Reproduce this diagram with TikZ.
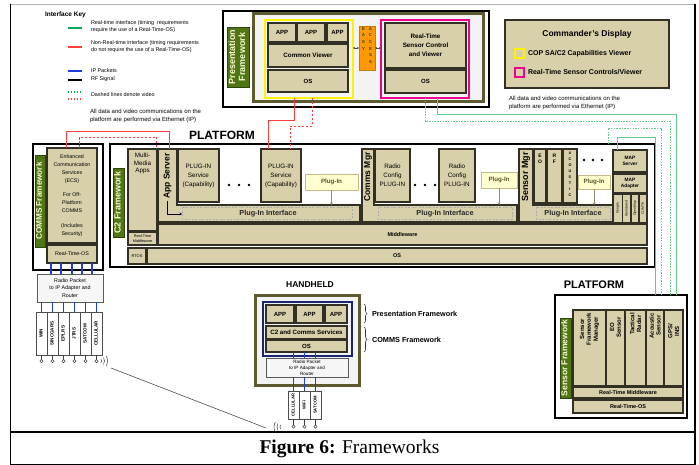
\documentclass[tikz,border=0pt]{standalone}
\usepackage{fontspec}
\setmainfont{Liberation Serif}
\setsansfont{Liberation Sans}
\usetikzlibrary{arrows.meta,decorations.pathreplacing}

\definecolor{tanbox}{RGB}{216,208,171}
\definecolor{boxedge}{RGB}{50,48,36}
\definecolor{olive}{RGB}{92,90,46}
\definecolor{labgreen}{RGB}{78,118,20}
\definecolor{labtext}{RGB}{252,248,205}
\definecolor{plugfill}{RGB}{255,255,208}
\definecolor{plugedge}{RGB}{196,186,136}
\definecolor{plugtext}{RGB}{90,84,40}
\definecolor{accessorange}{RGB}{255,153,0}
\definecolor{navyedge}{RGB}{28,38,112}
\definecolor{pktblue}{RGB}{30,60,220}
\definecolor{rtgreen}{RGB}{96,204,140}
\definecolor{keygreen}{RGB}{0,176,80}
\definecolor{nrtred}{RGB}{255,60,60}
\definecolor{panelgray}{RGB}{243,243,243}
\definecolor{pktfill}{RGB}{246,246,246}

\newcommand{\fsz}[2]{\fontsize{#1}{#2}\selectfont}
% box from corner (x1,y1) to corner (x2,y2), pixel units, y downwards
\newcommand{\mkbox}[7][]{%
  \pgfmathsetmacro\bxw{#5-(#3)}%
  \pgfmathsetmacro\bxh{#6-(#4)}%
  \node[#1,minimum width=\bxw pt,minimum height=\bxh pt,anchor=north west] (#2) at (#3,#4) {#7};}
% text turned to read from bottom to top
\newcommand{\uptext}[1]{\rotatebox{90}{\begin{tabular}{@{}c@{}}#1\end{tabular}}}

\begin{document}
\begin{tikzpicture}[x=1pt,y=-1pt,
  every node/.style={inner sep=0pt,outer sep=0pt},
  tbox/.style={draw=boxedge,fill=tanbox,line width=1.1pt,align=center,font=\sffamily\fsz{5}{6}},
  tboxb/.style={tbox,font=\sffamily\bfseries\fsz{6}{7}},
  grlab/.style={fill=labgreen,draw=labgreen!60!black,line width=0.4pt,text=labtext,font=\sffamily\bfseries\fsz{9}{10}},
  plugbox/.style={draw=plugedge,fill=plugfill,line width=0.8pt,text=plugtext,font=\sffamily\bfseries\fsz{6.2}{7}},
  pkt/.style={draw=gray!70!black,fill=pktfill,line width=0.6pt,align=center,font=\sffamily\fsz{5.3}{7.3}},
  radio/.style={draw=gray!60!black,fill=white,line width=0.6pt,font=\sffamily\bfseries\fsz{4.6}{5}},
  olivepanel/.style={draw=olive,fill=panelgray,line width=3pt},
  frame/.style={draw=black,fill=white,line width=1.8pt},
  lshape/.style={draw=boxedge,fill=tanbox,line width=1.1pt},
  ifdash/.style={draw=gray!65,line width=0.6pt,dash pattern=on 2pt off 1.5pt},
  iflabel/.style={font=\sffamily\bfseries\fsz{7.3}{8},text=black!85},
  mgrlab/.style={rotate=90,font=\sffamily\bfseries\fsz{8.5}{9}},
  keytxt/.style={font=\sffamily\fsz{5.4}{7},align=left,anchor=west},
  note/.style={font=\sffamily\fsz{6}{8},align=left,anchor=north west},
  blueln/.style={draw=pktblue,line width=1.3pt},
  redln/.style={draw=nrtred,line width=0.8pt},
  redds/.style={redln,dash pattern=on 2.5pt off 1.5pt},
  grnln/.style={draw=rtgreen,line width=0.8pt},
  grnds/.style={grnln,dash pattern=on 1.5pt off 1.2pt},
  plugarrow/.style={draw=plugedge!75!black,line width=0.6pt,-{Stealth[length=2.5pt,width=2.5pt]}},
  antenna/.style={draw=gray!50!black,line width=0.5pt},
  brc/.style={draw=black!80,line width=0.6pt,decorate,decoration={brace,amplitude=3pt}},
]
\useasboundingbox (0,0) rectangle (699,465);

% ---------------- outer frame and caption ----------------
\draw[gray!60,line width=1.5pt] (10,4.5) -- (695,4.5);
\draw[black,line width=1pt] (10,4) -- (10,464.5) -- (695,464.5);
\draw[black,line width=1.8pt] (695,3.7) -- (695,465);
\draw[black,line width=1.8pt] (10,432) -- (695,432);
\node[font=\fsz{19.5}{21}] (caption) at (349.5,449) {\textbf{Figure 6:} Frameworks};

% ---------------- interface key ----------------
\node[font=\sffamily\bfseries\fsz{6.5}{7},anchor=west] (keytitle) at (45,15) {Interface Key};
\draw[keygreen,line width=1.6pt] (68,28) -- (82,28);
\node[keytxt] (keyrt) at (91,26.5) {Real-time interface (timing\ \ requirements\\require the use of a Real-Time-OS)};
\draw[nrtred,line width=1.6pt] (68,47) -- (82,47);
\node[keytxt] (keynrt) at (91,46.5) {Non-Real-time interface (timing requirements\\do not require the use of a Real-Time-OS)};
\draw[pktblue,line width=1.6pt] (68,71) -- (82,71);
\node[keytxt] (keyip) at (91,70.5) {IP Packets};
\draw[black,line width=1.6pt] (68,80) -- (82,80);
\node[keytxt] (keyrf) at (91,79.5) {RF Signal};
\draw[keygreen,line width=1.3pt,dash pattern=on 1.3pt off 1.6pt] (68,92) -- (82,92);
\draw[nrtred,line width=1.3pt,dash pattern=on 1.3pt off 1.6pt] (68,99) -- (82,99);
\node[keytxt] (keyvid) at (91,95) {Dashed lines denote video};
\node[note] (noteleft) at (90,109) {All data and video communications on the\\platform are performed via Ethernet (IP)};

% ---------------- presentation framework ----------------
\mkbox[draw=black,fill=white,line width=1.5pt]{prout}{223}{11}{489}{107}{}
\mkbox[grlab]{prlab}{227}{27}{249}{87}{\uptext{Presentation\\Framework}}
\mkbox[olivepanel]{prpanel}{253}{14}{483}{102}{}
\mkbox[draw=yellow,line width=1.8pt]{copbox}{265}{20}{353}{98}{}
\mkbox[tboxb]{app1}{268}{23}{296}{42}{APP}
\mkbox[tboxb]{app2}{297}{23}{325}{42}{APP}
\mkbox[tboxb]{app3}{327}{23}{348}{42}{APP}
\mkbox[tboxb,font=\sffamily\bfseries\fsz{6.3}{7}]{cview}{268}{44}{348}{67}{Common Viewer}
\mkbox[tboxb]{cos}{268}{70}{348}{92}{OS}
\mkbox[draw=magenta,line width=1.8pt]{rtbox}{381}{20}{469}{98}{}
\mkbox[tboxb,font=\sffamily\bfseries\fsz{6.3}{9}]{rtview}{385}{23}{466}{68}{Real-Time\\Sensor Control\\and Viewer}
\mkbox[tboxb]{rtos}{385}{70}{466}{93}{OS}
\mkbox[fill=accessorange,draw=accessorange!80!black,line width=0.4pt]{access}{359}{26}{375}{70}{}
\node[font=\sffamily\bfseries\fsz{4.2}{6.6},align=center,anchor=north,text=black!80] (easy) at (363.5,27.5) {E\\A\\S\\Y};
\node[font=\sffamily\bfseries\fsz{4.2}{6.6},align=center,anchor=north,text=black!80] (accs) at (370.5,27.5) {A\\C\\C\\E\\S\\S};
\draw[gray!60!black,line width=0.5pt,{Stealth[length=2pt,width=2pt]}-{Stealth[length=2pt,width=2pt]}] (copbox.east |- access.west) -- (access.west);
\draw[gray!60!black,line width=0.5pt,{Stealth[length=2pt,width=2pt]}-{Stealth[length=2pt,width=2pt]}] (access.east) -- (rtbox.west |- access.east);

% ---------------- commander's display ----------------
\mkbox[tbox,line width=1.3pt]{cmd}{505}{20}{669}{88}{}
\node[font=\sffamily\bfseries\fsz{8.5}{9}] (cmdtitle) at (587,34) {Commander's Display};
\mkbox[draw=yellow,fill=tanbox,line width=1.6pt]{ysq}{515}{49}{524}{58}{}
\node[font=\sffamily\bfseries\fsz{7}{8},anchor=west] (copt) at (528,53.5) {COP SA/C2 Capabilities Viewer};
\mkbox[draw=magenta,fill=tanbox,line width=1.6pt]{msq}{515}{68}{524}{77}{}
\node[font=\sffamily\bfseries\fsz{7}{8},anchor=west] (rtst) at (528,72.5) {Real-Time Sensor Controls/Viewer};
\node[note] (noteright) at (509,96) {All data and video communications on the\\platform are performed via Ethernet (IP)};

% ---------------- COMMS framework ----------------
\node[font=\sffamily\bfseries\fsz{12}{13}] (plat1) at (222,135) {PLATFORM};
\mkbox[frame]{commsout}{33}{144}{103}{270}{}
\mkbox[grlab,font=\sffamily\bfseries\fsz{8.2}{9}]{commslab}{35}{155}{45}{247}{\uptext{COMMS Framework}}
\mkbox[tbox,font=\sffamily\fsz{5.3}{7.8}]{ecs}{47}{148}{97}{243}{Enhanced\\Communication\\Services\\(ECS)\\[7pt]For Off-\\Platform\\COMMS\\[7pt](Includes\\Security)}
\mkbox[tbox,font=\sffamily\fsz{5.3}{6}]{commsrtos}{47}{245}{97}{263}{Real-Time-OS}
\mkbox[pkt]{pktA}{37}{274}{103}{302}{Radio Packet\\to IP Adapter and\\Router}
\foreach \x in {51,61,72,82,92} \draw[blueln] (\x,0 |- commsrtos.south) -- (\x,0 |- pktA.north);
\foreach \lab [count=\i] in {WIN,SINCGARS,EPLRS,JTRS,SATCOM,CELLULAR}{
  \pgfmathsetmacro\xa{25+\i*11}
  \mkbox[radio]{radA\i}{\xa}{312}{\xa+11}{355}{\uptext{\lab}}
  \draw[blueln] (radA\i.north |- pktA.south) -- (radA\i.north);
  \draw[antenna] (radA\i.south) -- ++(0,4.5);
  \draw[antenna,fill=white] (radA\i.south) ++(0,6.1) circle (1.6);
}
\coordinate (rfA) at (111,368);
\coordinate (rfB) at (266,428);
\foreach \r in {4,7,10} \draw[antenna] (97.5,361) ++(30:\r) arc[start angle=30,end angle=-30,radius=\r];
\draw[gray!60!black,line width=0.6pt] (rfA) -- (rfB);

% ---------------- C2 framework ----------------
\mkbox[frame]{c2out}{110}{144}{655}{267}{}
\mkbox[grlab]{c2lab}{113}{168}{124}{237}{\uptext{C2 Framework}}
\mkbox[tbox]{mmapps}{128}{149}{157}{231}{}
\node[font=\sffamily\fsz{6.3}{7.5},align=center,anchor=north] (mmtxt) at (mmapps.north) [yshift=-4pt] {Multi-\\Media\\Apps};
\mkbox[tbox,font=\sffamily\fsz{3.8}{4.3}]{mmrtm}{128}{232}{157}{245}{Real-Time\\Middleware}
\mkbox[tbox,font=\sffamily\fsz{4}{5}]{rtosb}{128}{248}{146}{264}{RTOS}
\mkbox[tbox,font=\sffamily\bfseries\fsz{5.5}{6}]{mware}{158}{224}{647}{245}{Middleware}
\mkbox[tbox,font=\sffamily\bfseries\fsz{5.5}{6}]{c2os}{147}{248}{647}{264}{OS}

% app server block
\path[lshape] (158,149) -- (177,149) -- (177,205) -- (360,205) -- (360,222) -- (158,222) -- cycle;
\node[mgrlab] (appsrv) at (167.5,176) {App Server};
\coordinate (appsrvtop) at (167.5,149);
\draw[ifdash] (182,207.5) rectangle (352,219);
\node[iflabel] (pif1) at (268,213.5) {Plug-In Interface};
\coordinate (ifa) at (167,201);
\coordinate (ifb) at (182,214);
\draw[black,line width=0.5pt,-{Stealth[length=2.5pt,width=2.5pt]}] (ifa) |- (ifb);
\mkbox[tbox,font=\sffamily\fsz{6.3}{9}]{svc1}{178}{149}{219}{202}{PLUG-IN\\Service\\(Capability)}
\mkbox[tbox,font=\sffamily\fsz{6.3}{9}]{svc2}{261}{149}{301}{202}{PLUG-IN\\Service\\(Capability)}
\foreach \x in {229,239,249} \fill (\x,185) circle (1.3);
\mkbox[plugbox]{pin1}{305}{174}{358}{190}{Plug-In}
\draw[plugarrow] (pin1.south) -- ++(0,15);

% comms manager block
\path[lshape] (362,149) -- (374,149) -- (374,205) -- (517,205) -- (517,222) -- (362,222) -- cycle;
\node[mgrlab] (cmgr) at (368,177) {Comms Mgr};
\draw[ifdash] (378,207.5) rectangle (512,219);
\node[iflabel] (pif2) at (445,213.5) {Plug-In Interface};
\mkbox[tbox,font=\sffamily\fsz{6.3}{9}]{rcfg1}{375}{149}{410}{202}{Radio\\Config\\PLUG-IN}
\mkbox[tbox,font=\sffamily\fsz{6.3}{9}]{rcfg2}{439}{149}{475}{202}{Radio\\Config\\PLUG-IN}
\foreach \x in {415,425,435} \fill (\x,185) circle (1.3);
\mkbox[plugbox]{pin2}{481}{172}{517}{188}{Plug-In}
\draw[plugarrow] (pin2.south) -- ++(0,17);

% sensor manager block
\path[lshape] (519,149) -- (533,149) -- (533,205) -- (613,205) -- (613,222) -- (519,222) -- cycle;
\node[mgrlab,font=\sffamily\bfseries\fsz{9}{10}] (smgr) at (526,177) {Sensor Mgr};
\draw[ifdash] (536,207.5) rectangle (610,219);
\node[iflabel] (pif3) at (573,213.5) {Plug-In Interface};
\mkbox[tbox]{eo}{534}{149}{546}{203}{}
\node[font=\sffamily\bfseries\fsz{5}{6.5},align=center,anchor=north] (eotxt) at (eo.north) [yshift=-5pt] {E\\O};
\mkbox[tbox]{rf}{547}{149}{562}{203}{}
\node[font=\sffamily\bfseries\fsz{5}{6.5},align=center,anchor=north] (rftxt) at (rf.north) [yshift=-5pt] {R\\F};
\mkbox[tbox]{acou}{563}{149}{577}{203}{}
\node[font=\sffamily\bfseries\fsz{3.8}{6.1},align=center,anchor=north] (acoutxt) at (acou.north) [yshift=-2.5pt] {A\\C\\O\\U\\S\\T\\I\\C};
\foreach \x in {584,593,602} \fill (\x,160) circle (1.3);
\mkbox[plugbox]{pin3}{578}{175}{610}{189}{Plug-In}
\draw[plugarrow] (pin3.south) -- ++(0,16);
\mkbox[tbox,font=\sffamily\bfseries\fsz{4.8}{6}]{mapsrv}{613}{150}{647}{172}{MAP\\Server}
\mkbox[tbox,font=\sffamily\bfseries\fsz{4.8}{6}]{mapad}{613}{174}{647}{193}{MAP\\Adapter}
\mkbox[tbox,font=\sffamily\fsz{3.4}{4}]{mg1}{613}{194}{622.5}{223}{\uptext{Google}}
\mkbox[tbox,font=\sffamily\fsz{3.4}{4}]{mg2}{622.5}{194}{631}{223}{\uptext{Worldwind}}
\mkbox[tbox,font=\sffamily\fsz{3.4}{4}]{mg3}{631}{194}{639}{223}{\uptext{OpenMap}}
\mkbox[tbox,font=\sffamily\fsz{3.4}{4}]{mg4}{639}{194}{647}{223}{\uptext{C/JMTK}}

% ---------------- handheld ----------------
\node[font=\sffamily\bfseries\fsz{8.5}{9}] (hhtitle) at (310,285) {HANDHELD};
\mkbox[olivepanel]{hhpanel}{255}{295}{359}{385}{}
\mkbox[draw=navyedge,line width=1.6pt]{hhnavy}{263}{302}{352}{356}{}
\mkbox[tboxb]{hhapp1}{266}{305}{294}{323}{APP}
\mkbox[tboxb]{hhapp2}{296}{305}{323}{323}{APP}
\mkbox[tboxb]{hhapp3}{325}{305}{347}{323}{APP}
\mkbox[tboxb,font=\sffamily\bfseries\fsz{6.2}{7}]{hhsvc}{266}{326}{347}{339}{C2 and Comms Services}
\mkbox[tboxb]{hhos}{266}{340}{347}{352}{OS}
\mkbox[pkt,font=\sffamily\fsz{4.6}{6}]{hhpkt}{266}{358}{348}{377}{Radio Packet\\to IP Adapter and\\Router}
\foreach \lab [count=\i] in {CELLULAR,WiFi,SATCOM}{
  \pgfmathsetmacro\xa{277+\i*11}
  \mkbox[radio,font=\sffamily\bfseries\fsz{4.2}{5}]{radB\i}{\xa}{391}{\xa+11}{419}{\uptext{\lab}}
  \draw[blueln] (radB\i.north |- hhos.south) -- (radB\i.north |- hhpkt.north);
  \draw[blueln] (radB\i.north |- hhpkt.south) -- (radB\i.north);
  \draw[antenna] (radB\i.south) -- ++(0,6);
  \draw[antenna,fill=white] (radB\i.south) ++(0,7.6) circle (1.6);
}
\foreach \r in {4,7,10} \draw[antenna] (284,427) ++(150:\r) arc[start angle=150,end angle=210,radius=\r];
\draw[brc] (364,304) -- (364,323);
\draw[brc] (364,327) -- (364,352);
\node[font=\sffamily\bfseries\fsz{7.3}{8},anchor=west] (hhpf) at (372,313.5) {Presentation Framework};
\node[font=\sffamily\bfseries\fsz{7.3}{8},anchor=west] (hhcf) at (372,339.5) {COMMS Framework};

% ---------------- sensor platform ----------------
\node[font=\sffamily\bfseries\fsz{11}{12}] (plat2) at (594,285) {PLATFORM};
\mkbox[draw=black,fill=white,line width=1.5pt]{snsout}{555}{295}{687}{418}{}
\mkbox[grlab,font=\sffamily\bfseries\fsz{8.5}{9.5}]{snslab}{560}{318}{571}{398}{\uptext{Sensor Framework}}
\mkbox[tbox]{sc1}{573}{310}{606}{386}{}
\mkbox[tbox]{sc2}{606}{310}{625}{386}{}
\mkbox[tbox]{sc3}{625}{310}{646}{386}{}
\mkbox[tbox]{sc4}{646}{310}{664}{386}{}
\mkbox[tbox]{sc5}{664}{310}{683}{386}{}
\node[rotate=90,anchor=east,align=center,font=\sffamily\bfseries\fsz{6}{6.8}] (sct1) at ([yshift=-3pt]sc1.north) {Sensor\\Framework\\Manager};
\node[rotate=90,anchor=east,align=center,font=\sffamily\bfseries\fsz{6}{6.8}] (sct2) at ([yshift=-7pt]sc2.north) {EO\\Sensor};
\node[rotate=90,anchor=east,align=center,font=\sffamily\bfseries\fsz{6}{6.8}] (sct3) at ([yshift=-3pt]sc3.north) {Tactical\\Radar};
\node[rotate=90,anchor=east,align=center,font=\sffamily\bfseries\fsz{6}{6.8}] (sct4) at ([yshift=-3pt]sc4.north) {Acoustic\\Sensor};
\node[rotate=90,anchor=east,align=center,font=\sffamily\bfseries\fsz{6}{6.8}] (sct5) at ([yshift=-14pt]sc5.north) {GPS/\\INS};
\mkbox[tbox,font=\sffamily\bfseries\fsz{5.5}{6}]{snsmw}{573}{387}{683}{398}{Real-Time Middleware}
\mkbox[tbox,font=\sffamily\bfseries\fsz{5.5}{6}]{snsos}{573}{400}{683}{413}{Real-Time-OS}

% ---------------- interfaces ----------------
% non-real-time links (red)
\draw[redln] ([xshift=-15pt]copbox.south) -- ++(0,22) -| ([xshift=-13pt]svc2.north);
\draw[redds] ([xshift=3pt]copbox.south) -- ++(0,28) -| ([xshift=9pt]svc2.north);
\draw[redln] ([xshift=-5.5pt]ecs.north) -- ++(0,-17) -| ([xshift=1.5pt]appsrvtop);
\draw[redds] ([xshift=7.5pt]ecs.north) -- ++(0,-11) -| ([xshift=14pt]mmapps.north);
% real-time links (green)
\draw[grnln] ([xshift=12pt]rtbox.south) -- ++(0,16) -| ([xshift=55pt]snsout.north);
\draw[grnds] (rtbox.south) -- ++(0,23) -| ([xshift=49pt]snsout.north);
\draw[grnds] ([xshift=225.5pt]c2out.north) -- ++(0,-16) -| ([xshift=40pt]snsout.north);
\draw[grnln] ([xshift=-13pt]mapsrv.north) -- ++(0,-13) -| ([xshift=34pt]snsout.north);
\end{tikzpicture}
\end{document}
